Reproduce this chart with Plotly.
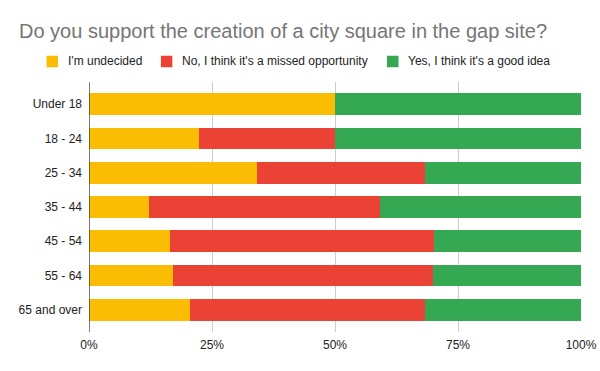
import plotly.graph_objects as go

categories = ["Under 18", "18 - 24", "25 - 34", "35 - 44", "45 - 54", "55 - 64", "65 and over"]
undecided = [50.0, 22.3, 34.2, 12.1, 16.4, 17.0, 20.6]
missed = [0.0, 27.7, 34.1, 47.1, 53.7, 52.9, 47.7]
good_idea = [50.0, 50.0, 31.7, 40.8, 29.9, 30.1, 31.7]
tick_vals = [0, 25, 50, 75, 100]
tick_text = ["0%", "25%", "50%", "75%", "100%"]
series_names = ["I'm undecided", "No, I think it's a missed opportunity", "Yes, I think it's a good idea"]
series_values = [undecided, missed, good_idea]
series_colors = ["#FBBC04", "#EA4335", "#34A853"]

L, R, T, B = 88.5, 18.7, 82, 39
W, H = 600, 371
pw = W - L - R
ph = H - T - B


def px_x(p):
    return (p - L) / pw


def px_y(p):
    return 1 - (p - T) / ph


fig = go.Figure()
for name, vals, color in zip(series_names, series_values, series_colors):
    fig.add_trace(go.Bar(
        y=categories, x=vals, name=name, orientation="h",
        marker=dict(color=color, line=dict(width=0)),
        showlegend=False,
    ))

# legend drawn as swatches + labels (Google Charts style, single row)
legend_swatch_left = [46, 160.5, 387]
legend_text_left = [66, 181, 407]
legend_cy = 61.5
sw = 11.5
shapes = []
annotations = []
for name, color, sx, tx in zip(series_names, series_colors, legend_swatch_left, legend_text_left):
    shapes.append(dict(type="rect", xref="paper", yref="paper",
                       x0=px_x(sx), x1=px_x(sx + sw),
                       y0=px_y(legend_cy + sw / 2), y1=px_y(legend_cy - sw / 2),
                       fillcolor=color, line=dict(width=0)))
    annotations.append(dict(text=name, xref="paper", yref="paper",
                            x=px_x(tx - 1), y=px_y(legend_cy), xanchor="left", yanchor="middle",
                            showarrow=False, font=dict(size=12, color="#222222")))

shapes.append(dict(type="line", xref="x", yref="paper", x0=0, x1=0, y0=0, y1=1,
                   line=dict(color="#333333", width=1.3), layer="above"))

fig.update_layout(
    barmode="stack",
    bargap=0.36,
    width=W, height=H,
    margin=dict(l=L, r=R, t=T, b=B, autoexpand=False),
    paper_bgcolor="white", plot_bgcolor="white",
    font=dict(family="Arial, Liberation Sans, sans-serif", size=12, color="#222222"),
    title=dict(
        text="Do you support the creation of a city square in the gap site?",
        x=19 / W, xanchor="left", y=1 - 31 / H, yanchor="middle",
        font=dict(size=20, color="#757575"),
    ),
    showlegend=False,
    xaxis=dict(
        range=[0, 100], tickvals=tick_vals, ticktext=tick_text,
        showgrid=True, gridcolor="#cccccc", gridwidth=1,
        zeroline=False, showline=False, ticks="",
        ticklabelstandoff=4,
        tickfont=dict(size=12, color="#222222"),
        fixedrange=True,
    ),
    yaxis=dict(
        autorange=False, range=[6.65, -0.65],
        categoryorder="array", categoryarray=categories,
        showgrid=False, zeroline=False, showline=False, ticks="",
        ticklabelstandoff=6,
        tickfont=dict(size=12, color="#222222"),
        fixedrange=True,
    ),
    shapes=shapes,
    annotations=annotations,
)

fig.write_html("out.html", config={"displayModeBar": False},
               post_script="document.body.style.margin='0';")
